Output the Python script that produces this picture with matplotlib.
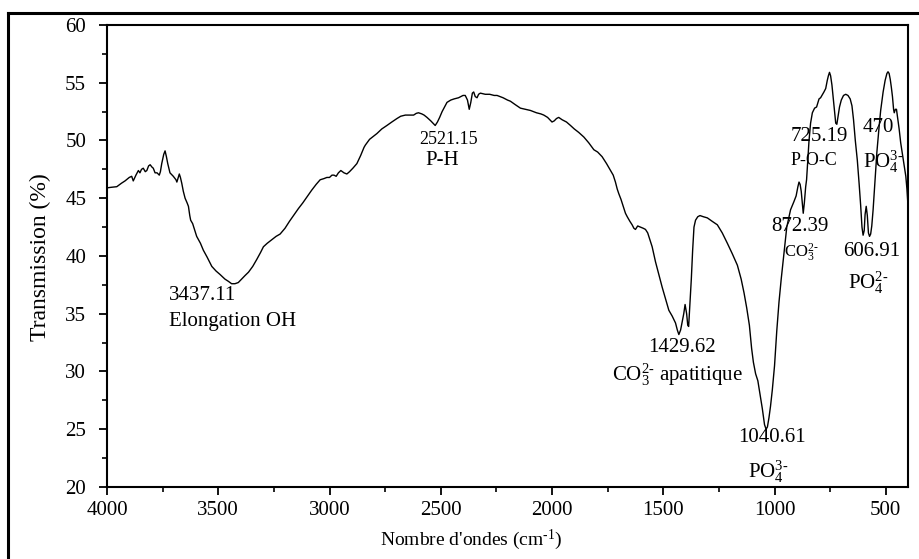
import matplotlib
matplotlib.use('Agg')
import matplotlib.pyplot as plt
from matplotlib.lines import Line2D
from matplotlib.ticker import MultipleLocator

plt.rcParams['font.family'] = ['Liberation Serif', 'DejaVu Serif']
plt.rcParams['mathtext.fontset'] = 'custom'
plt.rcParams['mathtext.rm'] = 'Liberation Serif'
plt.rcParams['mathtext.it'] = 'Liberation Serif:italic'

# spectre IR
nombre_onde = [
    4000, 3980, 3956, 3935, 3919, 3900, 3889, 3882, 3870, 3859, 3852, 3845, 3837, 3828, 3821,
    3813, 3806, 3798, 3792, 3784, 3775, 3765, 3760, 3754, 3745, 3739, 3733, 3727, 3717, 3702,
    3690, 3686, 3680, 3675, 3670, 3664, 3657, 3649, 3640, 3634, 3628, 3624, 3615, 3597, 3580,
    3567, 3550, 3529, 3510, 3492, 3470, 3454, 3440, 3425, 3410, 3395, 3380, 3364, 3345, 3327,
    3310, 3297, 3280, 3260, 3240, 3222, 3200, 3180, 3162, 3140, 3120, 3102, 3080, 3060, 3042,
    3025, 3012, 3000, 2989, 2980, 2970, 2960, 2949, 2935, 2922, 2910, 2895, 2877, 2860, 2845,
    2839, 2820, 2800, 2787, 2765, 2742, 2720, 2697, 2680, 2659, 2640, 2622, 2610, 2600, 2585,
    2575, 2562, 2545, 2535, 2525, 2515, 2505, 2494, 2483, 2472, 2455, 2440, 2420, 2400, 2390,
    2380, 2372, 2365, 2358, 2352, 2345, 2337, 2330, 2322, 2300, 2280, 2260, 2247, 2220, 2200,
    2187, 2165, 2142, 2120, 2097, 2070, 2050, 2037, 2020, 2010, 2000, 1990, 1980, 1970, 1955,
    1935, 1917, 1900, 1880, 1857, 1835, 1812, 1795, 1775, 1755, 1737, 1725, 1715, 1707, 1700,
    1690, 1680, 1670, 1662, 1650, 1640, 1632, 1625, 1615, 1602, 1590, 1580, 1570, 1557, 1550,
    1543, 1535, 1520, 1505, 1490, 1475, 1460, 1445, 1437, 1430, 1422, 1414, 1408, 1402, 1395,
    1390, 1386, 1380, 1374, 1368, 1362, 1355, 1345, 1335, 1320, 1302, 1280, 1257, 1235, 1212,
    1190, 1167, 1150, 1137, 1125, 1113, 1103, 1095, 1085, 1075, 1065, 1055, 1045, 1038, 1032,
    1025, 1018, 1010, 1000, 990, 980, 970, 958, 945, 928, 913, 903, 895, 890, 885,
    880, 875, 871, 866, 860, 856, 850, 845, 838, 830, 820, 811, 800, 793, 778,
    770, 763, 758, 753, 748, 742, 736, 730, 725, 720, 715, 708, 700, 690, 680,
    670, 660, 652, 645, 637, 628, 620, 613, 607, 602, 597, 593, 588, 583, 578,
    573, 568, 563, 557, 550, 540, 530, 523, 512, 503, 495, 490, 485, 480, 475,
    470, 465, 462, 457, 452, 447, 440, 433, 425, 418, 410, 405, 400]
transmission = [
    45.9, 45.95, 46.0, 46.3, 46.5, 46.8, 46.9, 46.5, 47.0, 47.4, 47.2, 47.5, 47.6, 47.3, 47.4,
    47.8, 47.9, 47.7, 47.6, 47.2, 47.2, 47.0, 47.3, 48.0, 48.8, 49.1, 48.6, 48.0, 47.2, 46.9,
    46.6, 46.4, 46.8, 47.1, 46.8, 46.3, 45.6, 45.0, 44.6, 44.3, 43.5, 43.1, 42.8, 41.7, 41.1,
    40.5, 39.9, 39.1, 38.7, 38.4, 38.0, 37.8, 37.6, 37.6, 37.7, 38.0, 38.3, 38.6, 39.1, 39.7,
    40.3, 40.8, 41.1, 41.4, 41.7, 41.9, 42.4, 43.0, 43.5, 44.1, 44.6, 45.1, 45.7, 46.2, 46.6,
    46.7, 46.8, 46.8, 47.0, 47.0, 46.9, 47.2, 47.4, 47.2, 47.1, 47.3, 47.6, 48.0, 48.7, 49.4,
    49.6, 50.1, 50.4, 50.6, 51.0, 51.3, 51.6, 51.9, 52.1, 52.2, 52.2, 52.2, 52.35, 52.4, 52.3,
    52.2, 52.0, 51.7, 51.5, 51.3, 51.6, 52.0, 52.5, 52.9, 53.3, 53.5, 53.6, 53.7, 53.9, 53.9,
    53.5, 52.7, 53.3, 54.1, 54.2, 53.8, 53.7, 54.0, 54.1, 54.0, 54.0, 53.9, 53.9, 53.7, 53.5,
    53.4, 53.1, 52.8, 52.7, 52.6, 52.4, 52.3, 52.2, 52.0, 51.8, 51.6, 51.7, 51.9, 52.0, 51.8,
    51.6, 51.3, 51.0, 50.7, 50.3, 49.8, 49.2, 49.0, 48.6, 48.0, 47.4, 47.0, 46.4, 45.8, 45.4,
    44.9, 44.3, 43.7, 43.4, 43.0, 42.7, 42.4, 42.3, 42.6, 42.5, 42.4, 42.3, 42.0, 41.2, 40.8,
    40.2, 39.5, 38.4, 37.3, 36.3, 35.3, 34.8, 34.2, 33.6, 33.2, 33.6, 34.4, 35.0, 35.8, 35.0,
    34.0, 33.9, 36.0, 38.0, 40.5, 42.5, 43.1, 43.4, 43.5, 43.4, 43.3, 43.0, 42.7, 42.0, 41.1,
    40.2, 39.2, 38.0, 36.8, 35.5, 34.0, 32.0, 30.8, 29.8, 29.2, 28.0, 26.8, 25.4, 25.0, 25.2,
    26.0, 27.0, 28.4, 30.5, 33.5, 36.0, 38.0, 40.2, 42.5, 44.0, 44.7, 45.2, 46.0, 46.4, 46.2,
    45.6, 44.5, 43.7, 44.6, 46.0, 46.6, 48.5, 50.0, 51.5, 52.4, 52.8, 52.9, 53.6, 53.7, 54.2,
    54.5, 55.2, 55.6, 55.9, 55.6, 54.8, 53.6, 52.4, 51.5, 51.4, 52.0, 52.9, 53.5, 53.9, 54.0,
    53.9, 53.6, 53.0, 51.8, 50.0, 48.3, 46.3, 44.4, 42.5, 41.8, 42.2, 43.6, 44.3, 43.5, 42.0,
    41.7, 41.9, 42.6, 44.0, 46.0, 49.0, 51.2, 52.6, 54.2, 55.2, 55.8, 55.95, 55.8, 55.3, 54.6,
    53.8, 52.7, 52.4, 52.7, 52.7, 52.0, 51.0, 49.8, 48.8, 47.9, 46.9, 45.8, 44.3]

# annotations : (texte, x, y, taille)
pics = [
    ('3437.11', 3720, 36.55, 15),
    ('Elongation OH', 3722, 34.3, 15),
    ('2521.15', 2598, 50.1, 13),
    ('P-H', 2571, 48.3, 15),
    ('1429.62', 1569, 32.1, 15),
    (r'CO$_3^{2\text{-}}$ apatitique', 1730, 29.7, 15),
    ('1040.61', 1164, 24.25, 15),
    (r'PO$_4^{3\text{-}}$', 1119, 21.3, 15),
    ('872.39', 1013, 42.55, 15),
    (r'CO$_3^{2\text{-}}$', 957, 40.3, 12),
    ('725.19', 927, 50.35, 15),
    ('P-O-C', 927, 48.3, 13),
    ('470', 604, 51.1, 15),
    (r'PO$_4^{3\text{-}}$', 604, 48.15, 15),
    ('606.91', 692, 40.4, 15),
    (r'PO$_4^{2\text{-}}$', 670, 37.65, 15),
]

fig = plt.figure(figsize=(9.2, 5.59), dpi=100)
ax = fig.add_axes([0.1163, 0.1288, 0.8707, 0.8265])

ax.plot(nombre_onde, transmission, color='black', lw=1.0)

for txt, x, y, s in pics:
    ax.text(x, y, txt, fontsize=s, ha='left', va='center')

ax.set_xlim(4000, 400)
ax.set_ylim(20, 60)
ax.set_xticks([4000, 3500, 3000, 2500, 2000, 1500, 1000, 500])
ax.set_yticks([20, 25, 30, 35, 40, 45, 50, 55, 60])
ax.xaxis.set_minor_locator(MultipleLocator(250))
ax.yaxis.set_minor_locator(MultipleLocator(2.5))
ax.tick_params(which='major', direction='out', length=6, width=1.3, labelsize=15)
ax.tick_params(axis='y', which='major', pad=9)
ax.tick_params(axis='x', which='major', pad=4)
ax.tick_params(which='minor', direction='out', length=3.5, width=1.2)
for sp in ax.spines.values():
    sp.set_linewidth(1.5)

fig.text(0.512, 0.034, "Nombre d'ondes (cm$^{\\text{-}1}$)", fontsize=14, ha='center', va='center')
fig.text(0.044, 0.54, 'Transmission (%)', fontsize=17, rotation=90, ha='center', va='center')

# cadre extérieur
fig.add_artist(Line2D([0.0087, 1.0], [0.9767, 0.9767], color='black', lw=2.2, transform=fig.transFigure))
fig.add_artist(Line2D([0.0087, 0.0087], [0.0, 0.9767], color='black', lw=2.2, transform=fig.transFigure))

plt.savefig('out.png', dpi=100)
